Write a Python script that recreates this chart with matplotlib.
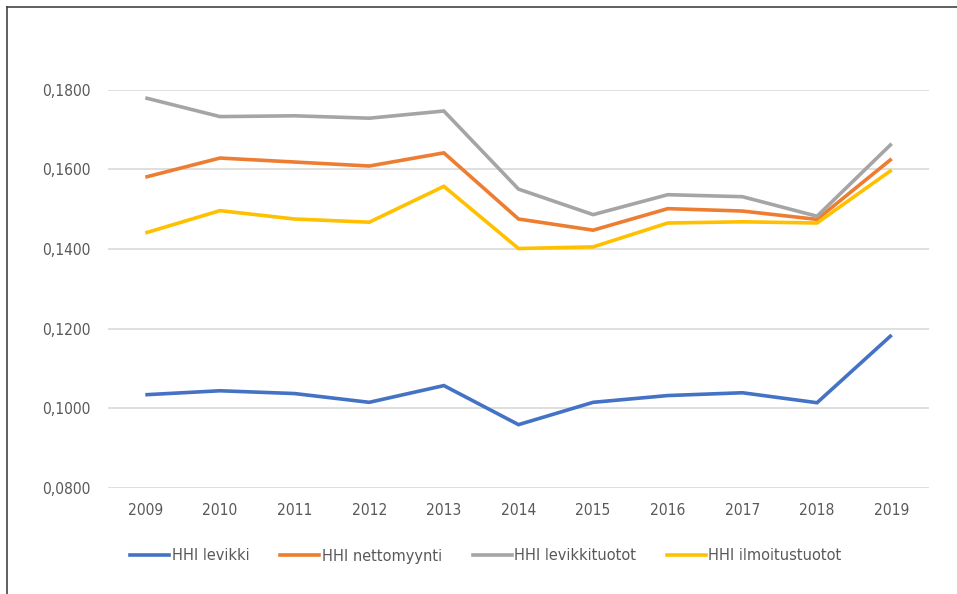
import matplotlib
matplotlib.use('Agg')
import matplotlib.pyplot as plt
from matplotlib.ticker import FuncFormatter
from matplotlib.lines import Line2D

years = [2009, 2010, 2011, 2012, 2013, 2014, 2015, 2016, 2017, 2018, 2019]

hhi_levikki = [0.1034, 0.1044, 0.1037, 0.1015, 0.1057, 0.0959, 0.1015, 0.1032, 0.1039, 0.1014, 0.1184]
hhi_nettomyynti = [0.1580, 0.1628, 0.1618, 0.1608, 0.1641, 0.1475, 0.1447, 0.1501, 0.1495, 0.1474, 0.1626]
hhi_levikkituotot = [0.1779, 0.1732, 0.1734, 0.1728, 0.1746, 0.1550, 0.1486, 0.1536, 0.1531, 0.1482, 0.1664]
hhi_ilmoitustuotot = [0.1440, 0.1496, 0.1475, 0.1467, 0.1557, 0.1401, 0.1405, 0.1465, 0.1468, 0.1465, 0.1598]

labels = ['HHI levikki', 'HHI nettomyynti', 'HHI levikkituotot', 'HHI ilmoitustuotot']
yticks = [0.08, 0.10, 0.12, 0.14, 0.16, 0.18]

plt.rcParams['font.family'] = ['DejaVu Sans']
plt.rcParams['font.stretch'] = 'condensed'
text_color = '#595959'

fig = plt.figure(figsize=(9.57, 5.94), dpi=100)
ax = fig.add_axes([108 / 957, 1 - 488 / 594, (929 - 108) / 957, (488 - 89.5) / 594])

series = [hhi_levikki, hhi_nettomyynti, hhi_levikkituotot, hhi_ilmoitustuotot]
colors = ['#4472C4', '#ED7D31', '#A5A5A5', '#FFC000']
for values, color, label in zip(series, colors, labels):
    ax.plot(years, values, color=color, linewidth=2.6, label=label,
            solid_capstyle='butt', solid_joinstyle='miter', zorder=3)

ax.set_xlim(2008.5, 2019.5)
ax.set_ylim(0.08, 0.18)
ax.set_xticks(years)
ax.set_yticks(yticks)
ax.yaxis.set_major_formatter(FuncFormatter(lambda v, p: f'{v:.4f}'.replace('.', ',')))
ax.tick_params(length=0, labelsize=11.2, labelcolor=text_color)
ax.tick_params(axis='y', pad=12.5)
ax.tick_params(axis='x', pad=11)
ax.grid(axis='y', color='#D9D9D9', linewidth=1.2, zorder=0)
for s in ax.spines.values():
    s.set_visible(False)

handles = [Line2D([], [], color=c, linewidth=2.6) for c in colors]
fig.legend(handles, labels, loc='center', bbox_to_anchor=(486 / 957, 1 - 556 / 594),
           ncol=4, frameon=False, fontsize=11.7, labelcolor=text_color,
           handlelength=2.4, handletextpad=0.15, columnspacing=1.9)

# frame edges on the left and top
fig.add_artist(Line2D([6.5 / 957, 6.5 / 957], [0, 1 - 6.5 / 594], color='#444444', linewidth=1.2))
fig.add_artist(Line2D([6.5 / 957, 1], [1 - 6.5 / 594, 1 - 6.5 / 594], color='#444444', linewidth=1.2))

fig.savefig('out.png', dpi=100)
